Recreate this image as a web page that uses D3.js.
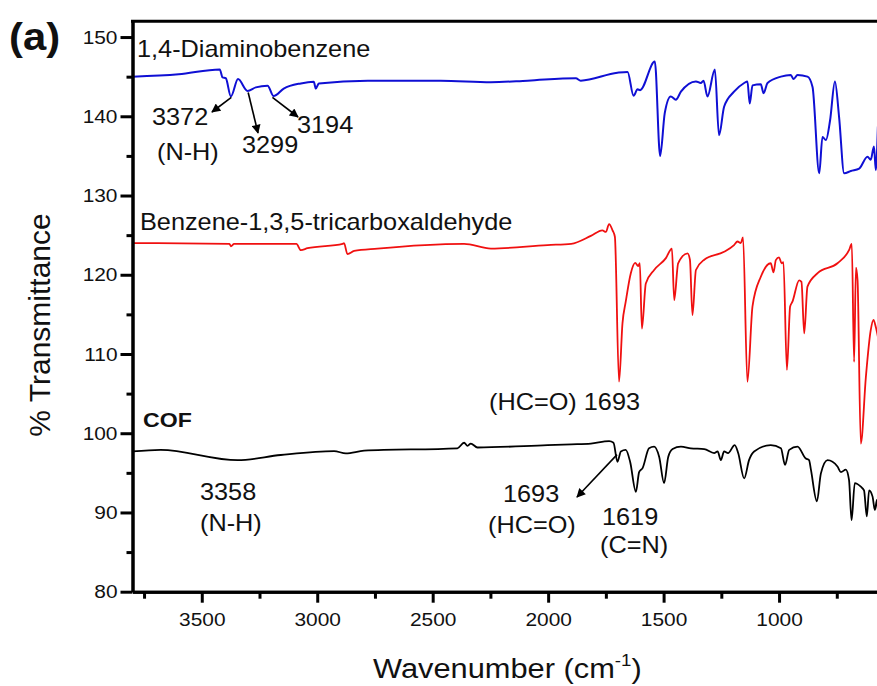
<!DOCTYPE html>
<html>
<head>
<meta charset="utf-8">
<script src="https://cdn.jsdelivr.net/npm/d3@7"></script>
<style>
  body { margin: 0; background: #fff; }
  svg { display: block; font-family: "Liberation Sans", Arial, sans-serif; }
</style>
</head>
<body>
<div id="chart"></div>
<script>
// wavenumber (cm-1) / % transmittance
const diaminoWn = [3800, 3600, 3422, 3410, 3396, 3374, 3343, 3302, 3266, 3215, 3189, 3145, 3071, 3015, 3006, 2993,
  2781, 2465, 2248, 2089, 1880, 1859, 1700, 1656, 1630, 1613, 1602, 1538, 1515, 1495, 1469, 1447, 1425, 1360,
  1339, 1327, 1310, 1278, 1260, 1238, 1195, 1151, 1137, 1127, 1115, 1079, 1067, 1050, 992, 949, 937, 920, 877,
  855, 826, 812, 797, 779, 758, 740, 718, 689, 653, 617, 603, 589, 581, 572];
const diaminoT = [145.0, 145.3, 145.9, 144.9, 144.8, 142.5, 144.7, 143.2, 143.65, 143.85, 142.55, 143.5, 144.15, 144.35, 143.5, 144.15,
  144.5, 144.5, 144.3, 144.5, 144.8, 144.5, 145.5, 145.6, 142.6, 143.4, 143.3, 146.9, 135.0, 140.4, 142.5, 142.1, 143.1, 144.4,
  144.2, 144.5, 142.5, 145.9, 137.6, 141.2, 143.1, 144.2, 144.4, 141.6, 143.9, 144.05, 142.9, 144.2, 145.0, 145.2, 144.7, 145.2, 145.0,
  143.7, 132.8, 137.4, 137.0, 139.5, 144.4, 139.9, 132.8, 133.1, 133.4, 134.9, 134.5, 136.2, 133.2, 138.7];

const aldehydeWn = [3800, 3380, 3374, 3360, 3090, 3071, 3042, 2890, 2884, 2869, 2840, 2739, 2364, 2248, 2003, 1900, 1815,
  1765, 1750, 1736, 1721, 1711, 1693, 1678, 1664, 1642, 1623, 1610, 1603, 1594, 1577, 1541, 1490, 1464, 1454, 1437,
  1396, 1386, 1375, 1360, 1324, 1238, 1195, 1180, 1166, 1156, 1137, 1115, 1079, 1036, 1024, 1014, 1000, 989, 981,
  966, 952, 942, 913, 903, 891, 877, 833, 747, 697, 685, 675, 667, 660, 646, 624, 603, 591, 581, 572];
const aldehydeT = [124.0, 123.9, 123.6, 123.9, 123.9, 123.1, 123.35, 123.9, 124.0, 122.6, 123.0, 123.3, 123.9, 123.3, 123.75, 123.9, 124.9,
  125.6, 125.4, 126.4, 125.6, 124.8, 106.5, 113.9, 116.6, 120.2, 121.5, 121.1, 121.45, 113.2, 118.9, 120.6, 122.1, 123.3, 116.8, 121.45,
  122.7, 121.9, 114.9, 120.6, 121.9, 122.9, 123.75, 124.2, 124.0, 124.7, 106.5, 116.0, 119.75, 121.45, 120.3, 121.85, 122.2, 121.45, 121.6,
  108.0, 116.0, 116.6, 119.3, 119.1, 112.6, 118.5, 120.2, 121.45, 123.1, 123.9, 109.0, 120.9, 119.3, 98.7, 107.1, 113.0, 114.3, 113.4, 112.2];

const cofWn = [3800, 3678, 3345, 3158, 2927, 2876, 2797, 2393, 2364, 2349, 2335, 2306, 2003, 1900, 1815, 1736, 1717,
  1700, 1685, 1664, 1645, 1620, 1606, 1591, 1563, 1541, 1519, 1498, 1480, 1461, 1425, 1382, 1324, 1281, 1266, 1252,
  1238, 1221, 1192, 1177, 1151, 1130, 1108, 1036, 992, 974, 956, 920, 884, 870, 862, 836, 819, 790, 747, 732, 711,
  697, 686, 672, 646, 632, 620, 610, 595, 585, 576, 572];
const cofT = [97.7, 97.9, 96.6, 97.25, 97.75, 97.45, 97.8, 98.1, 98.8, 98.4, 98.7, 98.2, 98.5, 98.6, 98.7, 99.0, 98.8,
  96.4, 97.7, 97.9, 96.4, 92.6, 95.1, 95.6, 98.1, 98.3, 97.0, 93.7, 97.0, 98.0, 98.3, 98.1, 98.0, 97.5, 97.7, 96.6,
  97.7, 97.5, 98.5, 97.5, 94.3, 96.6, 97.7, 98.5, 98.1, 96.0, 97.9, 98.3, 96.8, 96.6, 95.4, 91.4, 94.9, 96.6, 95.8, 95.1, 95.4,
  94.1, 89.0, 93.7, 93.25, 92.8, 89.5, 92.8, 92.0, 90.3, 91.6, 90.3];

const xMajor = [3500, 3000, 2500, 2000, 1500, 1000];
const xMinor = [3750, 3250, 2750, 2250, 1750, 1250, 750];
const yMajor = [80, 90, 100, 110, 120, 130, 140, 150];
const yMinor = [85, 95, 105, 115, 125, 135, 145];

const width = 877;
const height = 686;
const stretch = "scale(1.1,1)";

const x = d3.scaleLinear().domain([3800, 400]).range([132.5, 917.6]);
const y = d3.scaleLinear().domain([80, 152]).range([591.7, 21.2]);

const svg = d3.select("#chart").append("svg")
  .attr("width", width)
  .attr("height", height);

svg.append("rect").attr("width", width).attr("height", height).attr("fill", "#fff");

const defs = svg.append("defs");
defs.append("clipPath").attr("id", "plot")
  .append("rect")
  .attr("x", x(3800)).attr("y", y(152))
  .attr("width", x(400) - x(3800)).attr("height", y(80) - y(152));
defs.append("marker")
  .attr("id", "arrow")
  .attr("viewBox", "0 0 10 10")
  .attr("refX", 9).attr("refY", 5)
  .attr("markerWidth", 11).attr("markerHeight", 9)
  .attr("markerUnits", "userSpaceOnUse")
  .attr("orient", "auto")
  .append("path")
  .attr("d", "M0,0 L10,5 L0,10 Z")
  .attr("fill", "#000");

// spectra
const line = d3.line()
  .x(d => x(d[0]))
  .y(d => y(d[1]))
  .curve(d3.curveMonotoneX);
const series = [
  { wn: diaminoWn, t: diaminoT, color: "#0f0fd4", w: 2 },
  { wn: aldehydeWn, t: aldehydeT, color: "#f01010", w: 1.8 },
  { wn: cofWn, t: cofT, color: "#000", w: 1.8 }
];
const plot = svg.append("g").attr("clip-path", "url(#plot)");
series.forEach(s => {
  plot.append("path")
    .datum(d3.zip(s.wn, s.t))
    .attr("d", line)
    .attr("fill", "none")
    .attr("stroke", s.color)
    .attr("stroke-width", s.w)
    .attr("stroke-linejoin", "round");
});

// axes
function styleAxis(g) {
  g.select(".domain").attr("stroke-width", 3);
  g.selectAll(".tick line").attr("stroke-width", 3);
  g.selectAll("text").attr("font-size", 19).attr("fill", "#111");
}

svg.append("g")
  .attr("transform", `translate(0,${y(80)})`)
  .call(d3.axisBottom(x).tickValues(xMinor).tickSize(7).tickSizeOuter(0).tickFormat(""))
  .call(styleAxis);
svg.append("g")
  .attr("transform", `translate(0,${y(80)})`)
  .call(d3.axisBottom(x).tickValues(xMajor).tickSize(11).tickSizeOuter(0).tickPadding(10).tickFormat(d3.format("d")))
  .call(styleAxis)
  .call(g => g.selectAll("text").attr("transform", stretch));

svg.append("g")
  .attr("transform", `translate(${x(3800)},0)`)
  .call(d3.axisLeft(y).tickValues(yMinor).tickSize(6).tickSizeOuter(0).tickFormat(""))
  .call(styleAxis);
svg.append("g")
  .attr("transform", `translate(${x(3800)},0)`)
  .call(d3.axisLeft(y).tickValues(yMajor).tickSize(12).tickSizeOuter(0).tickPadding(3))
  .call(styleAxis)
  .call(g => g.selectAll("text").attr("x", -15 / 1.1).attr("transform", stretch));

// top frame
svg.append("line")
  .attr("x1", x(3800) - 1.5).attr("x2", x(400))
  .attr("y1", y(152)).attr("y2", y(152))
  .attr("stroke", "#000").attr("stroke-width", 3);

// text helper, picture is a bit wider than tall
function label(px, py, str, size, opts = {}) {
  return svg.append("text")
    .attr("transform", `translate(${px},${py}) ${opts.rotate ? "rotate(-90)" : stretch}`)
    .attr("font-size", size)
    .attr("font-weight", opts.bold ? "bold" : "normal")
    .attr("text-anchor", opts.anchor || "start")
    .attr("fill", "#111")
    .text(str);
}

label(9, 50, "(a)", 38, { bold: true });
label(50, 325, "% Transmittance", 30, { rotate: true, anchor: "middle" });

const xt = label(373, 678, "Wavenumber (cm", 28);
xt.append("tspan").attr("font-size", 17).attr("dy", -12).text("-1");
xt.append("tspan").attr("dy", 12).text(")");

// series names
label(137, 57, "1,4-Diaminobenzene", 23);
label(140, 230, "Benzene-1,3,5-tricarboxaldehyde", 23);
label(143, 427, "COF", 21, { bold: true });

// peak labels
label(152, 125, "3372", 23);
label(157, 160, "(N-H)", 23);
label(242, 153, "3299", 23);
label(297, 133, "3194", 23);
label(489, 410, "(HC=O) 1693", 23);
label(200, 500, "3358", 23);
label(200, 531, "(N-H)", 23);
label(503, 502, "1693", 23);
label(488, 533, "(HC=O)", 23);
label(602, 525, "1619", 23);
label(600, 553, "(C=N)", 23);

// arrows
const arrows = [
  [x(3372), y(142.4), 212, 112],
  [x(3299), y(143.0), 258, 133],
  [x(3194), y(142.4), 298, 117],
  [x(1693) - 2, y(97.3), 577, 497]
];
arrows.forEach(a => {
  svg.append("line")
    .attr("x1", a[0]).attr("y1", a[1])
    .attr("x2", a[2]).attr("y2", a[3])
    .attr("stroke", "#000").attr("stroke-width", 1.6)
    .attr("marker-end", "url(#arrow)");
});
</script>
</body>
</html>
